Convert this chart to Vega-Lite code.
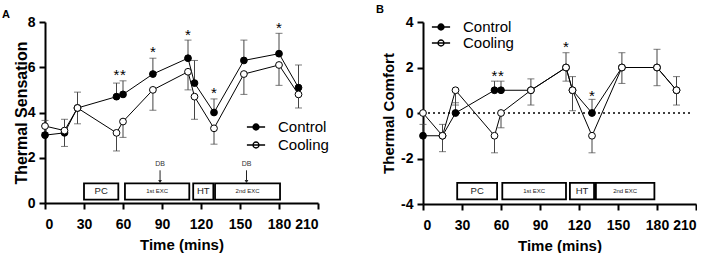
{
  "$schema": "https://vega.github.io/schema/vega-lite/v6.json",
  "autosize": {"type": "pad"},
  "padding": {"left": 2, "top": 4, "right": 0, "bottom": 0},
  "background": "white",
  "config": {
    "font": "Liberation Sans",
    "view": {"stroke": null},
    "axis": {
      "grid": false, "domainColor": "black", "domainWidth": 2, "tickColor": "black", "tickWidth": 2, "tickSize": 6,
      "labelFont": "Liberation Sans", "labelFontWeight": "bold", "labelFontSize": 14, "labelColor": "black",
      "titleFont": "Liberation Sans", "titleFontWeight": "bold", "titleFontSize": 15, "titleColor": "black"
    }
  },
  "datasets": {
    "ptsA": [
      {"group": "Control", "t": 0, "v": 3.0, "e": 3.65},
      {"group": "Control", "t": 15, "v": 3.1, "e": 3.7},
      {"group": "Control", "t": 25, "v": 4.2, "e": 4.9},
      {"group": "Control", "t": 55, "v": 4.7, "e": 5.3},
      {"group": "Control", "t": 60, "v": 4.8, "e": 5.4},
      {"group": "Control", "t": 83, "v": 5.7, "e": 6.4},
      {"group": "Control", "t": 110, "v": 6.4, "e": 7.2},
      {"group": "Control", "t": 115, "v": 5.3, "e": 6.3},
      {"group": "Control", "t": 130, "v": 4.0, "e": 4.6},
      {"group": "Control", "t": 153, "v": 6.3, "e": 7.2},
      {"group": "Control", "t": 180, "v": 6.6, "e": 7.5},
      {"group": "Control", "t": 195, "v": 5.1, "e": 6.1},
      {"group": "Cooling", "t": 0, "v": 3.4, "e": 3.1},
      {"group": "Cooling", "t": 15, "v": 3.2, "e": 2.5},
      {"group": "Cooling", "t": 25, "v": 4.2, "e": 3.5},
      {"group": "Cooling", "t": 55, "v": 3.1, "e": 2.3},
      {"group": "Cooling", "t": 60, "v": 3.6, "e": 2.9},
      {"group": "Cooling", "t": 83, "v": 5.0, "e": 4.1},
      {"group": "Cooling", "t": 110, "v": 5.8, "e": 5.0},
      {"group": "Cooling", "t": 115, "v": 4.7, "e": 3.7},
      {"group": "Cooling", "t": 130, "v": 3.3, "e": 2.6},
      {"group": "Cooling", "t": 153, "v": 5.7, "e": 4.8},
      {"group": "Cooling", "t": 180, "v": 6.1, "e": 5.2},
      {"group": "Cooling", "t": 195, "v": 4.8, "e": 4.2}
    ],
    "ptsB": [
      {"group": "Control", "t": 0, "v": -1, "e": -0.5},
      {"group": "Control", "t": 15, "v": -1, "e": -0.5},
      {"group": "Control", "t": 25, "v": 0, "e": 0.45},
      {"group": "Control", "t": 55, "v": 1, "e": 1.4},
      {"group": "Control", "t": 60, "v": 1, "e": 1.4},
      {"group": "Control", "t": 83, "v": 1, "e": 1.5},
      {"group": "Control", "t": 110, "v": 2, "e": 2.65},
      {"group": "Control", "t": 115, "v": 1, "e": 1.6},
      {"group": "Control", "t": 130, "v": 0, "e": 0.6},
      {"group": "Control", "t": 153, "v": 2, "e": 2.65},
      {"group": "Control", "t": 180, "v": 2, "e": 2.8},
      {"group": "Control", "t": 195, "v": 1, "e": 1.6},
      {"group": "Cooling", "t": 0, "v": 0, "e": 0},
      {"group": "Cooling", "t": 15, "v": -1, "e": -1.7},
      {"group": "Cooling", "t": 25, "v": 1, "e": 0.35},
      {"group": "Cooling", "t": 55, "v": -1, "e": -1.75},
      {"group": "Cooling", "t": 60, "v": 0, "e": -0.65},
      {"group": "Cooling", "t": 83, "v": 1, "e": 0.35},
      {"group": "Cooling", "t": 110, "v": 2, "e": 1.4},
      {"group": "Cooling", "t": 115, "v": 1, "e": 0.1},
      {"group": "Cooling", "t": 130, "v": -1, "e": -1.75},
      {"group": "Cooling", "t": 153, "v": 2, "e": 1.3},
      {"group": "Cooling", "t": 180, "v": 2, "e": 1.2},
      {"group": "Cooling", "t": 195, "v": 1, "e": 0.35}
    ],
    "starsA": [
      {"t": 55, "v": 5.8, "label": "*"},
      {"t": 60, "v": 5.8, "label": "*"},
      {"t": 83, "v": 6.85, "label": "*"},
      {"t": 110, "v": 7.6, "label": "*"},
      {"t": 130, "v": 5.0, "label": "*"},
      {"t": 180, "v": 7.9, "label": "*"}
    ],
    "starsB": [
      {"t": 55, "v": 1.8, "label": "*"},
      {"t": 60, "v": 1.8, "label": "*"},
      {"t": 110, "v": 3.04, "label": "*"},
      {"t": 130, "v": 0.92, "label": "*"}
    ],
    "boxesA": [
      {"label": "PC", "kind": "big", "t": 30, "t2": 56.4, "tm": 43.2, "v": 0.15, "e": 0.87, "vm": 0.51},
      {"label": "1st EXC", "kind": "small", "t": 61.5, "t2": 111, "tm": 86.25, "v": 0.15, "e": 0.87, "vm": 0.51},
      {"label": "HT", "kind": "big", "t": 114, "t2": 129.5, "tm": 121.75, "v": 0.15, "e": 0.87, "vm": 0.51},
      {"label": "2nd EXC", "kind": "small", "t": 130.8, "t2": 180.8, "tm": 155.8, "v": 0.15, "e": 0.87, "vm": 0.51}
    ],
    "boxesB": [
      {"label": "PC", "kind": "big", "t": 26.3, "t2": 57, "tm": 41.65, "v": -3.8, "e": -3.07, "vm": -3.43},
      {"label": "1st EXC", "kind": "small", "t": 61, "t2": 110, "tm": 85.5, "v": -3.8, "e": -3.07, "vm": -3.43},
      {"label": "HT", "kind": "big", "t": 113, "t2": 131.6, "tm": 122.3, "v": -3.8, "e": -3.07, "vm": -3.43},
      {"label": "2nd EXC", "kind": "small", "t": 133, "t2": 178, "tm": 155.5, "v": -3.8, "e": -3.07, "vm": -3.43}
    ],
    "dbA": [
      {"label": "DB", "t": 88.5, "v": 1.71, "e": 0.95},
      {"label": "DB", "t": 155, "v": 1.71, "e": 0.95}
    ],
    "zeroB": [{"v": 0}]
  },
  "bounds": "flush",
  "spacing": 105,
  "resolve": {
    "scale": {"x": "independent", "y": "independent", "fill": "independent"},
    "legend": {"fill": "independent"}
  },
  "hconcat": [
    {
      "width": 273,
      "height": 181,
      "title": {"text": "A", "anchor": "start", "frame": "group", "dx": -43, "offset": -14, "baseline": "alphabetic", "fontSize": 11, "fontWeight": "bold", "font": "Liberation Sans", "color": "black"},
      "encoding": {
        "x": {"field": "t", "type": "quantitative", "scale": {"domain": [0, 210], "nice": false, "zero": false},
              "axis": {"title": "Time (mins)", "values": [0, 30, 60, 90, 120, 150, 180, 210], "labelPadding": 8, "titlePadding": 6}},
        "y": {"field": "v", "type": "quantitative", "scale": {"domain": [0, 8], "nice": false, "zero": false},
              "axis": {"title": "Thermal  Sensation", "values": [0, 2, 4, 6, 8], "labelPadding": 4, "titlePadding": -2, "titleFontSize": 16}}
      },
      "layer": [
        {
          "data": {"name": "ptsA"},
          "mark": {"type": "rule", "color": "#444444", "strokeWidth": 1},
          "encoding": {"y2": {"field": "e"}}
        },
        {
          "data": {"name": "ptsA"},
          "mark": {"type": "tick", "orient": "horizontal", "color": "#444444", "size": 7, "thickness": 1},
          "encoding": {"y": {"field": "e", "type": "quantitative", "title": "Thermal  Sensation"}}
        },
        {
          "data": {"name": "ptsA"},
          "mark": {"type": "line", "color": "black", "strokeWidth": 1},
          "encoding": {"detail": {"field": "group", "type": "nominal"}}
        },
        {
          "data": {"name": "ptsA"},
          "mark": {"type": "point", "shape": "circle", "size": 46, "filled": true, "stroke": "black", "strokeWidth": 1, "opacity": 1},
          "encoding": {
            "fill": {"field": "group", "type": "nominal",
              "scale": {"domain": ["Control", "Cooling"], "range": ["black", "white"]},
              "legend": {"orient": "none", "legendX": 203, "legendY": 97, "title": null, "padding": 0,
                "symbolType": "M-1.3,0H1.3M0.43,0A0.43,0.43 0 1,1 -0.43,0A0.43,0.43 0 1,1 0.43,0Z",
                "symbolSize": 196, "symbolStrokeColor": "black", "symbolStrokeWidth": 1.3,
                "labelFont": "Liberation Sans", "labelFontSize": 15, "labelColor": "black", "labelOffset": 14, "rowPadding": 2}}
          }
        },
        {
          "data": {"name": "starsA"},
          "mark": {"type": "text", "fontSize": 15, "color": "black", "baseline": "alphabetic", "dy": 8.5},
          "encoding": {"text": {"field": "label"}}
        },
        {
          "data": {"name": "boxesA"},
          "mark": {"type": "rect", "fill": "white", "stroke": "black", "strokeWidth": 1.8},
          "encoding": {"x2": {"field": "t2"}, "y2": {"field": "e"}}
        },
        {
          "data": {"name": "boxesA"},
          "transform": [{"filter": "datum.kind == 'big'"}],
          "mark": {"type": "text", "fontSize": 9.5, "color": "#222222", "baseline": "middle"},
          "encoding": {"x": {"field": "tm", "type": "quantitative", "title": "Time (mins)"}, "y": {"field": "vm", "type": "quantitative", "title": "Thermal  Sensation"}, "text": {"field": "label"}}
        },
        {
          "data": {"name": "boxesA"},
          "transform": [{"filter": "datum.kind == 'small'"}],
          "mark": {"type": "text", "fontSize": 6, "color": "#222222", "baseline": "middle"},
          "encoding": {"x": {"field": "tm", "type": "quantitative", "title": "Time (mins)"}, "y": {"field": "vm", "type": "quantitative", "title": "Thermal  Sensation"}, "text": {"field": "label"}}
        },
        {
          "data": {"name": "dbA"},
          "mark": {"type": "text", "fontSize": 7, "color": "#333333", "baseline": "middle"},
          "encoding": {"text": {"field": "label"}}
        },
        {
          "data": {"name": "dbA"},
          "mark": {"type": "rule", "color": "#222222", "strokeWidth": 1, "yOffset": 6},
          "encoding": {"y2": {"field": "e"}}
        },
        {
          "data": {"name": "dbA"},
          "mark": {"type": "point", "shape": "triangle-down", "size": 14, "filled": true, "color": "#222222", "opacity": 1},
          "encoding": {"y": {"field": "e", "type": "quantitative", "title": "Thermal  Sensation"}}
        }
      ]
    },
    {
      "width": 273,
      "height": 182,
      "title": {"text": "B", "anchor": "start", "frame": "group", "dx": -47, "offset": -9, "baseline": "alphabetic", "fontSize": 11, "fontWeight": "bold", "font": "Liberation Sans", "color": "black"},
      "encoding": {
        "x": {"field": "t", "type": "quantitative", "scale": {"domain": [0, 210], "nice": false, "zero": false},
              "axis": {"title": "Time (mins)", "values": [0, 30, 60, 90, 120, 150, 180, 210], "labelPadding": 8, "titlePadding": 6}},
        "y": {"field": "v", "type": "quantitative", "scale": {"domain": [-4, 4], "nice": false, "zero": false},
              "axis": {"title": "Thermal Comfort", "values": [-4, -2, 0, 2, 4], "labelPadding": 4, "titlePadding": 4, "labelExpr": "replace(datum.label, '−', '-')"}}
      },
      "layer": [
        {
          "data": {"name": "zeroB"},
          "mark": {"type": "rule", "color": "black", "strokeWidth": 1.5, "strokeDash": [2, 3]},
          "encoding": {"x": {"value": 0}, "x2": {"value": 270}}
        },
        {
          "data": {"name": "ptsB"},
          "mark": {"type": "rule", "color": "#444444", "strokeWidth": 1},
          "encoding": {"y2": {"field": "e"}}
        },
        {
          "data": {"name": "ptsB"},
          "mark": {"type": "tick", "orient": "horizontal", "color": "#444444", "size": 7, "thickness": 1},
          "encoding": {"y": {"field": "e", "type": "quantitative", "title": "Thermal Comfort"}}
        },
        {
          "data": {"name": "ptsB"},
          "mark": {"type": "line", "color": "black", "strokeWidth": 1},
          "encoding": {"detail": {"field": "group", "type": "nominal"}}
        },
        {
          "data": {"name": "ptsB"},
          "mark": {"type": "point", "shape": "circle", "size": 46, "filled": true, "stroke": "black", "strokeWidth": 1, "opacity": 1},
          "encoding": {
            "fill": {"field": "group", "type": "nominal",
              "scale": {"domain": ["Control", "Cooling"], "range": ["black", "white"]},
              "legend": {"orient": "none", "legendX": 10, "legendY": -3, "title": null, "padding": 0,
                "symbolType": "M-1.3,0H1.3M0.43,0A0.43,0.43 0 1,1 -0.43,0A0.43,0.43 0 1,1 0.43,0Z",
                "symbolSize": 196, "symbolStrokeColor": "black", "symbolStrokeWidth": 1.3,
                "labelFont": "Liberation Sans", "labelFontSize": 15, "labelColor": "black", "labelOffset": 14, "rowPadding": 0}}
          }
        },
        {
          "data": {"name": "starsB"},
          "mark": {"type": "text", "fontSize": 15, "color": "black", "baseline": "alphabetic", "dy": 8.5},
          "encoding": {"text": {"field": "label"}}
        },
        {
          "data": {"name": "boxesB"},
          "mark": {"type": "rect", "fill": "white", "stroke": "black", "strokeWidth": 1.8},
          "encoding": {"x2": {"field": "t2"}, "y2": {"field": "e"}}
        },
        {
          "data": {"name": "boxesB"},
          "transform": [{"filter": "datum.kind == 'big'"}],
          "mark": {"type": "text", "fontSize": 9.5, "color": "#222222", "baseline": "middle"},
          "encoding": {"x": {"field": "tm", "type": "quantitative", "title": "Time (mins)"}, "y": {"field": "vm", "type": "quantitative", "title": "Thermal Comfort"}, "text": {"field": "label"}}
        },
        {
          "data": {"name": "boxesB"},
          "transform": [{"filter": "datum.kind == 'small'"}],
          "mark": {"type": "text", "fontSize": 6, "color": "#222222", "baseline": "middle"},
          "encoding": {"x": {"field": "tm", "type": "quantitative", "title": "Time (mins)"}, "y": {"field": "vm", "type": "quantitative", "title": "Thermal Comfort"}, "text": {"field": "label"}}
        }
      ]
    }
  ]
}
